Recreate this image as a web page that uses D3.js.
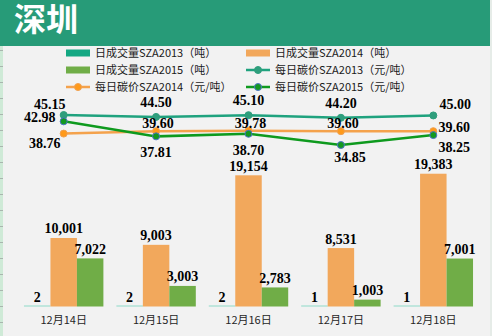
<!DOCTYPE html>
<html><head><meta charset="utf-8">
<script src="https://cdn.jsdelivr.net/npm/d3@7"></script>
<style>html,body{margin:0;padding:0;background:#F2F2F2;}svg{display:block;}</style>
</head><body>
<svg id="c" width="492" height="336"></svg>
<script>
const title = "深圳";
const categories = ["12月14日","12月15日","12月16日","12月17日","12月18日"];
const volume2013 = [2, 2, 2, 1, 1];
const volume2014 = [10001, 9003, 19154, 8531, 19383];
const volume2015 = [7022, 3003, 2783, 1003, 7001];
const price2013 = [45.15, 44.50, 45.10, 44.20, 45.00];
const price2014 = [38.76, 39.60, 39.78, 39.60, 39.60];
const price2015 = [42.98, 37.81, 38.70, 34.85, 38.25];
const barNames = ["日成交量SZA2013（吨）","日成交量SZA2014（吨）","日成交量SZA2015（吨）"];
const lineNames = ["每日碳价SZA2013（元/吨）","每日碳价SZA2014（元/吨）","每日碳价SZA2015（元/吨）"];

const svg = d3.select("#c");
const W = 492, H = 336;
svg.append("rect").attr("width", W).attr("height", H).attr("fill", "#F2F2F2");

// spreadsheet edges
svg.append("rect").attr("x", 0).attr("y", 0).attr("width", 3).attr("height", H).attr("fill", "#CFEAD7");
svg.append("rect").attr("x", 490).attr("y", 0).attr("width", 2).attr("height", H).attr("fill", "#E6ECE8");
const rows = d3.range(2, H, 16);
svg.selectAll("line.row").data(rows).join("line").attr("class","row")
  .attr("x1", 0).attr("x2", 3).attr("y1", d => d + 0.5).attr("y2", d => d + 0.5)
  .attr("stroke", "#A9B6AE").attr("stroke-width", 1);

// banner
svg.append("rect").attr("x", 0).attr("y", 0).attr("width", 490).attr("height", 46).attr("fill", "#279B78");
svg.append("text").attr("x", 14).attr("y", 31).text(title)
  .attr("fill", "#fff").attr("font-family", "'Noto Sans CJK SC'").attr("font-weight", "bold").attr("font-size", 32);

// scales
const x0 = d3.scaleBand().domain(categories).range([17.5, 479.5]).paddingInner(0.1405).paddingOuter(0.07);
const barKeys = [0, 1, 2];
const x1 = d3.scaleBand().domain(barKeys).range([0, x0.bandwidth()]);
const y = d3.scaleLinear().domain([0, 20000]).range([306.5, 169.5]);
const y2 = d3.scaleLinear().domain([30, 50]).range([159.1, 100.9]);

const barColors = ["#14A883", "#F2A85C", "#70AD47"];
const lineColors = ["#1FA27E", "#F4A24C", "#0E9A1E"];
const markerFill = ["#2E9E7C", "#FF9A1A", "#13991F"];
const markerStroke = ["#2E9E7C", "#F0A050", "#4C74C8"];
const volumes = [volume2013, volume2014, volume2015];
const prices = [price2013, price2014, price2015];

const labelFont = "'Liberation Serif', 'DejaVu Serif', serif";

// bars
const barData = [];
categories.forEach((c, i) => barKeys.forEach(k => barData.push({c, k, v: volumes[k][i]})));
const g = svg.append("g");
g.selectAll("rect.bar").data(barData).join("rect").attr("class", "bar")
  .attr("x", d => x0(d.c) + x1(d.k))
  .attr("width", x1.bandwidth())
  .attr("y", d => Math.min(y(d.v), y(0) - 1))
  .attr("height", d => Math.max(y(0) - y(d.v), 1))
  .attr("fill", d => d.k === 0 ? "#8ED9C8" : barColors[d.k]);
g.selectAll("text.bl").data(barData).join("text").attr("class", "bl")
  .attr("x", d => x0(d.c) + x1(d.k) + x1.bandwidth() / 2)
  .attr("y", d => y(d.v) - 4.5)
  .attr("text-anchor", "middle")
  .attr("font-family", labelFont).attr("font-weight", "bold").attr("font-size", 14)
  .attr("fill", "#000")
  .text(d => d3.format(",")(d.v));

// x axis labels
svg.selectAll("text.xl").data(categories).join("text").attr("class", "xl")
  .attr("x", d => x0(d) + x0.bandwidth() / 2).attr("y", 324)
  .attr("text-anchor", "middle").attr("font-family", "'Noto Sans CJK SC'").attr("font-size", 11)
  .attr("fill", "#262626").text(d => d);

// lines
const cx = c => x0(c) + x0.bandwidth() / 2;
const lineGen = d3.line().x((d, i) => cx(categories[i])).y(d => y2(d));
// label nudges per series [first, middle, last]
const nudges = [
  [[-14, -6], [0, -10], [22, -6]],
  [[-19, 14], [2, -3], [21, 1]],
  [[-24, 1], [0, 21], [21, 17]]
];
prices.forEach((p, s) => {
  svg.append("path").datum(p).attr("d", lineGen).attr("fill", "none")
    .attr("stroke", lineColors[s]).attr("stroke-width", 2.5);
});
prices.forEach((p, s) => {
  svg.selectAll("circle.m" + s).data(p).join("circle").attr("class", "m" + s)
    .attr("cx", (d, i) => cx(categories[i])).attr("cy", d => y2(d)).attr("r", 3.5)
    .attr("fill", markerFill[s]).attr("stroke", markerStroke[s]).attr("stroke-width", 1);
});
prices.forEach((p, s) => {
  svg.selectAll("text.pl" + s).data(p).join("text").attr("class", "pl" + s)
    .attr("x", (d, i) => cx(categories[i]) + nudges[s][i === 0 ? 0 : (i === p.length - 1 ? 2 : 1)][0] + (s === 2 && i === 3 ? 9 : 0))
    .attr("y", (d, i) => y2(d) + nudges[s][i === 0 ? 0 : (i === p.length - 1 ? 2 : 1)][1] + (s === 2 && i === 3 ? -4 : 0))
    .attr("text-anchor", "middle")
    .attr("font-family", labelFont).attr("font-weight", "bold").attr("font-size", 14)
    .attr("fill", "#000")
    .text(d => d3.format(".2f")(d));
});

// legend
const legFont = "'Noto Sans CJK SC'";
const legendItems = [
  {type: "bar", s: 0, name: barNames[0]},
  {type: "bar", s: 1, name: barNames[1]},
  {type: "bar", s: 2, name: barNames[2]},
  {type: "line", s: 0, name: lineNames[0]},
  {type: "line", s: 1, name: lineNames[1]},
  {type: "line", s: 2, name: lineNames[2]}
];
const leg = svg.append("g");
legendItems.forEach((it, i) => {
  const col = i % 2, row = Math.floor(i / 2);
  const lx = col === 0 ? 66 : 246;
  const ly = 53 + row * 17;
  const gi = leg.append("g").attr("transform", `translate(${lx},${ly})`);
  if (it.type === "bar") {
    gi.append("rect").attr("x", 0).attr("y", -3.5).attr("width", 24).attr("height", 7).attr("fill", barColors[it.s]);
  } else {
    gi.append("line").attr("x1", 0).attr("x2", 24).attr("y1", 0).attr("y2", 0)
      .attr("stroke", lineColors[it.s]).attr("stroke-width", 2.5);
    gi.append("circle").attr("cx", 12).attr("cy", 0).attr("r", 3.5)
      .attr("fill", markerFill[it.s]).attr("stroke", markerStroke[it.s]).attr("stroke-width", 1);
  }
  gi.append("text").attr("x", 29).attr("y", 4).attr("font-family", legFont).attr("font-size", 11)
    .attr("fill", "#1a1a1a").text(it.name);
});
</script>
</body></html>
